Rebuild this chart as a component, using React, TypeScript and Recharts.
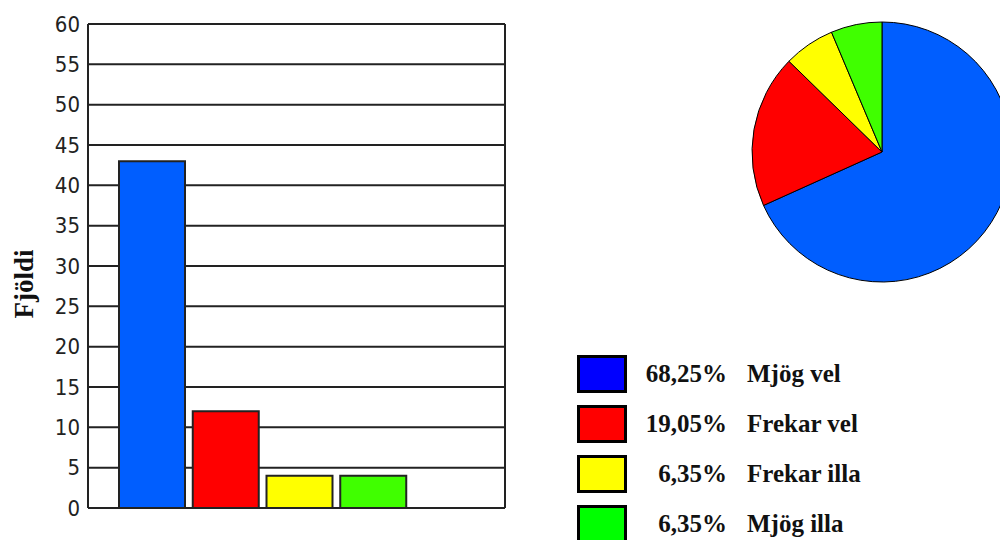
import React from "react";
import { BarChart, Bar, XAxis, YAxis, CartesianGrid, Cell, PieChart, Pie } from "recharts";

const categories = ["Mjög vel", "Frekar vel", "Frekar illa", "Mjög illa"];
const counts = [43, 12, 4, 4];
const barColors = ["#005eff", "#ff0000", "#ffff00", "#40ff00"];
const legendColors = ["#0000ff", "#ff0000", "#ffff00", "#00ff00"];
const yTicks = [0, 5, 10, 15, 20, 25, 30, 35, 40, 45, 50, 55, 60];
const yLabel = "Fjöldi";

const total = counts.reduce((a, b) => a + b, 0);
const data = categories.map((name, i) => ({ name, value: counts[i] }));
const pct = (v: number) => ((v / total) * 100).toFixed(2).replace(".", ",") + "%";

const lineColor = "#222";

const AxisLabel = (props: any) => {
  const vb = props.viewBox || {};
  const cx = vb.x + 24;
  const cy = vb.y + vb.height / 2 + 18;
  return (
    <text
      x={cx}
      y={cy}
      transform={`rotate(-90, ${cx}, ${cy})`}
      textAnchor="middle"
      dominantBaseline="central"
      style={{ fontFamily: "'Liberation Serif', serif", fontWeight: "bold", fontSize: 27, fill: "#111" }}
    >
      {yLabel}
    </text>
  );
};

const textStyle: React.CSSProperties = {
  position: "absolute",
  top: 0,
  height: 38,
  lineHeight: "38px",
  fontFamily: "'Liberation Serif', serif",
  fontWeight: "bold",
  fontSize: 25,
  color: "#111",
  whiteSpace: "nowrap",
};

export default function App() {
  return (
    <div style={{ position: "absolute", left: 0, top: 0, width: 1000, height: 540, overflow: "hidden", background: "#fff" }}>
      <div style={{ position: "absolute", left: 0, top: 0 }}>
        <BarChart width={520} height={540} data={data} margin={{ top: 24, right: 14, bottom: 32, left: 0 }} barCategoryGap={4}>
          <CartesianGrid vertical={false} stroke={lineColor} strokeWidth={2} />
          <XAxis dataKey="name" hide padding={{ left: 27, right: 95 }} />
          <YAxis
            width={88}
            domain={[0, 60]}
            ticks={yTicks}
            interval={0}
            tickLine={false}
            axisLine={{ stroke: lineColor, strokeWidth: 2 }}
            tick={{ fill: "#222", fontFamily: "'DejaVu Sans Condensed', sans-serif", fontSize: 22 }}
            label={{ content: AxisLabel }}
          />
          <YAxis yAxisId="r" orientation="right" width={1} domain={[0, 60]} tick={false} tickLine={false} axisLine={{ stroke: lineColor, strokeWidth: 2 }} />
          <Bar dataKey="value" isAnimationActive={false} stroke={lineColor} strokeWidth={2}>
            {data.map((d, i) => (
              <Cell key={d.name} fill={barColors[i]} />
            ))}
          </Bar>
        </BarChart>
      </div>
      <div style={{ position: "absolute", left: 600, top: 0 }}>
        <PieChart width={400} height={300} margin={{ top: 0, right: 0, bottom: 0, left: 0 }}>
          <Pie
            data={data}
            dataKey="value"
            nameKey="name"
            cx={282}
            cy={152}
            outerRadius={130}
            startAngle={90}
            endAngle={-270}
            stroke="#000"
            strokeWidth={1}
            isAnimationActive={false}
          >
            {data.map((d, i) => (
              <Cell key={d.name} fill={barColors[i]} />
            ))}
          </Pie>
        </PieChart>
      </div>
      {data.map((d, i) => (
        <div key={d.name} style={{ position: "absolute", left: 577, top: 355 + i * 50, height: 38, width: 400 }}>
          <div style={{ position: "absolute", left: 0, top: 0, width: 50, height: 38, boxSizing: "border-box", border: "3px solid #000", background: legendColors[i] }} />
          <div style={{ ...textStyle, right: 400 - 150, textAlign: "right" }}>{pct(d.value)}</div>
          <div style={{ ...textStyle, left: 170 }}>{d.name}</div>
        </div>
      ))}
    </div>
  );
}
